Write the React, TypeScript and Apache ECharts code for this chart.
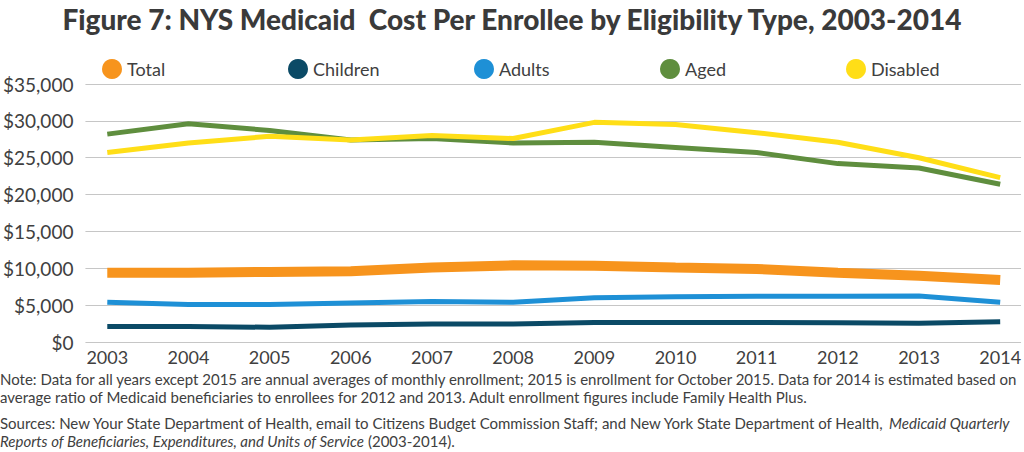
import React, { useEffect, useRef } from "react";
import * as echarts from "echarts";

const years = [2003, 2004, 2005, 2006, 2007, 2008, 2009, 2010, 2011, 2012, 2013, 2014];
const total = [9400, 9400, 9500, 9600, 10100, 10400, 10350, 10100, 9900, 9400, 9000, 8400];
const children = [2100, 2100, 2000, 2300, 2450, 2450, 2650, 2650, 2650, 2600, 2550, 2750];
const adults = [5400, 5100, 5100, 5300, 5500, 5400, 6000, 6150, 6200, 6200, 6250, 5400];
const aged = [28200, 29600, 28700, 27400, 27600, 27000, 27100, 26400, 25700, 24200, 23600, 21400];
const disabled = [25700, 27000, 27900, 27400, 28000, 27600, 29800, 29500, 28400, 27100, 25000, 22300];

const seriesDefs = [
  { name: "Total", data: total, color: "#F7941D", width: 10 },
  { name: "Children", data: children, color: "#0B4A66", width: 5 },
  { name: "Adults", data: adults, color: "#1E90D6", width: 5 },
  { name: "Aged", data: aged, color: "#5F8E3E", width: 5 },
  { name: "Disabled", data: disabled, color: "#FFDE17", width: 5 },
];

const textColor = "#404040";
const font = "Lato, 'Open Sans', sans-serif";

export default function App() {
  const ref = useRef<HTMLDivElement>(null);
  useEffect(() => {
    if (!ref.current) return;
    const chart = echarts.init(ref.current, undefined, { renderer: "svg" });
    chart.setOption({
      animation: false,
      backgroundColor: "#ffffff",
      title: {
        text: "Figure 7: NYS Medicaid  Cost Per Enrollee by Eligibility Type, 2003-2014",
        left: "center",
        top: 0,
        textStyle: { fontFamily: font, fontWeight: 900, fontSize: 28, color: "#3a3a3a" },
      },
      legend: seriesDefs.map((s, i) => ({
        left: 97 + i * 186,
        top: 54,
        icon: "circle",
        itemWidth: 20,
        itemHeight: 20,
        textStyle: { fontFamily: font, fontSize: 18, color: textColor },
        data: [s.name],
      })),
      grid: { left: 82, right: 0, top: 84, bottom: 110, containLabel: false },
      xAxis: {
        type: "value",
        min: 2003 - 22 / 81.727,
        max: 2014 + 21 / 81.727,
        splitLine: { show: false },
        axisLine: { show: false },
        axisTick: { show: false },
        axisLabel: {
          customValues: years,
          formatter: (v: number) => String(Math.round(v)),
          fontFamily: font,
          fontSize: 18,
          color: textColor,
          margin: 6,
          showMinLabel: true,
          showMaxLabel: true,
        },
      },
      yAxis: {
        type: "value",
        min: 0,
        max: 35000,
        interval: 5000,
        axisLine: { show: false },
        axisTick: { show: false },
        splitLine: { lineStyle: { color: "#c6c6c6", width: 1 } },
        axisLabel: {
          fontFamily: font,
          fontSize: 19,
          color: textColor,
          margin: 12,
          formatter: (v: number) => "$" + v.toLocaleString("en-US"),
        },
      },
      series: seriesDefs.map((s) => ({
        name: s.name,
        type: "line",
        data: years.map((y, i) => [y, s.data[i]]),
        showSymbol: false,
        symbol: "circle",
        color: s.color,
        lineStyle: { color: s.color, width: s.width },
        itemStyle: { color: s.color },
      })),
      graphic: [
        {
          type: "text",
          left: 0,
          top: 370,
          style: {
            text:
              "Note: Data for all years except 2015 are annual averages of monthly enrollment; 2015 is enrollment for October 2015. Data for 2014 is estimated based on\naverage ratio of Medicaid beneficiaries to enrollees for 2012 and 2013. Adult enrollment figures include Family Health Plus.",
            font: `15px ${font}`,
            fill: textColor,
            lineHeight: 18,
          },
        },
        {
          type: "text",
          left: 0,
          top: 414,
          style: {
            text:
              "{n|Sources: New Your State Department of Health, email to Citizens Budget Commission Staff; and New York State Department of Health, }{i|Medicaid Quarterly}\n{i|Reports of Beneficiaries, Expenditures, and Units of Service} {n|(2003-2014).}",
            rich: {
              n: { fontFamily: font, fontSize: 15, fill: textColor, lineHeight: 18 },
              i: { fontFamily: font, fontSize: 15, fontStyle: "italic", fill: textColor, lineHeight: 18 },
            },
            font: `15px ${font}`,
            fill: textColor,
            lineHeight: 18,
          },
        },
      ],
    });
    return () => chart.dispose();
  }, []);
  return <div ref={ref} style={{ width: 1024, height: 452, position: "absolute", left: 0, top: 0 }} />;
}
